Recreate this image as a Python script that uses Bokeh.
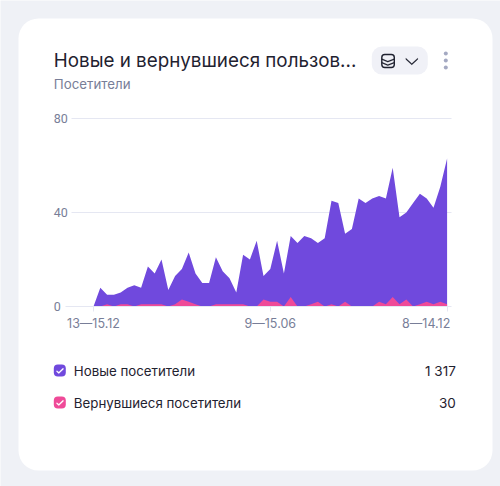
from bokeh.plotting import figure
from bokeh.embed import file_html
from bokeh.resources import INLINE
from bokeh.models import Label, BoxAnnotation, PolyAnnotation, FixedTicker, Range1d, LinearAxis, Grid

new_visitors = [0,8,5,5,6,8,9,8,17,14,20,7,13,16,23,14,10,10,21,15,12,6,22,20,28,13,16,28,14,30,27,30,29,27,29,45,44,31,33,46,44,46,47,46,59,38,40,44,48,46,42,51,63]
returning = [0,0,1,0,1,1,0,1,1,1,1,0,1,3,2,1,0,0,1,1,1,1,1,0,0,3,2,2,0,4,0,0,1,2,0,1,0,2,0,0,0,0,2,1,4,1,3,0,1,2,1,2,1]
weeks = list(range(len(new_visitors)))
x_labels = {0: "13—15.12", 26: "9—15.06", 52: ""}
last_label = "8—14.12"
y_ticks = [0, 40, 80]
title = "Новые и вернувшиеся пользов..."
subtitle = "Посетители"
legend_names = ["Новые посетители", "Вернувшиеся посетители"]
legend_values = ["1 317", "30"]

PURPLE, PINK = "#7049DD", "#EF4A98"
BG, GRID, MUTED, DARK = "#EFF1F6", "#E5E7F2", "#787E98", "#1F2230"
FONT = "Inter"
W, H = 500, 486
dx = 6.8; dy = 2.35; x0_px = 93.0; y0_px = 306

def dataX(px): return (px - x0_px) / dx
def X(px): return px - 0.7
def Y(py): return H - py

p = figure(width=W, height=H, output_backend="svg", toolbar_location=None,
           x_axis_type=None, y_axis_type=None,
           x_range=Range1d(dataX(0), dataX(W)),
           y_range=Range1d((y0_px - H) / dy, y0_px / dy),
           min_border_left=0, min_border_right=0, min_border_top=0, min_border_bottom=0)
p.background_fill_color = BG
p.border_fill_color = BG
p.outline_line_color = None

def box(l, r, t, b, fill, line=None, radius=0, lw=1, level="annotation"):
    p.add_layout(BoxAnnotation(left=X(l), right=X(r), top=Y(t), bottom=Y(b),
                               left_units="screen", right_units="screen", top_units="screen", bottom_units="screen",
                               fill_color=fill, fill_alpha=1 if fill else 0, line_color=line, line_width=lw, line_alpha=1,
                               border_radius=radius, level=level))

box(18.7, 492.7, 18, 470, "white", radius=20, level="underlay")

p.varea(weeks, 0, new_visitors, fill_color=PURPLE)
p.varea(weeks, 0, returning, fill_color=PINK)

ax = LinearAxis(fixed_location=0, bounds=(dataX(65), dataX(451)))
ax.ticker = FixedTicker(ticks=list(x_labels))
ax.major_label_overrides = x_labels
ax.axis_line_color = GRID
ax.major_tick_line_color = GRID
ax.major_tick_out = 5
ax.major_tick_in = 0
ax.minor_tick_line_color = None
ax.major_label_standoff = 4
ax.major_label_text_font = FONT
ax.major_label_text_font_size = "12.5px"
ax.major_label_text_color = MUTED
p.add_layout(ax, "below")

g = Grid(dimension=1, ticker=FixedTicker(ticks=y_ticks[1:]), cross_bounds=(dataX(71), dataX(451)),
         grid_line_color=GRID, level="underlay")
p.add_layout(g)

def text(s, x, y, size, color, align="left", font=FONT):
    p.add_layout(Label(x=X(x), y=Y(y), x_units="screen", y_units="screen", text=s, text_font=font,
                       text_font_size=size, text_color=color, text_align=align, text_baseline="middle"))

def poly(xs, ys, color):
    p.add_layout(PolyAnnotation(xs=[X(a) for a in xs], ys=[Y(b) for b in ys], xs_units="screen", ys_units="screen",
                                fill_color=color, fill_alpha=1, line_color=color, line_width=0.5))

def chev(xa, xb, xc, ya, yb, t, color):
    poly([xa, xb, xc, xc, xb, xa], [ya, yb, ya, ya + t, yb + t, ya + t], color)

for t in y_ticks:
    p.add_layout(Label(x=X(54), y=t, x_units="screen", y_units="data", text=str(t), text_font="Roboto",
                       text_font_size="12.5px", text_color=MUTED, text_align="left", text_baseline="middle"))

text(title, 54, 59.5, "18.8px", DARK)
text(subtitle, 54, 83.5, "13.3px", MUTED)
text(last_label, 450.5, 322.5, "12.5px", MUTED, "right")

# control pill and menu
box(372, 428, 46, 74, "#F0F1F7", radius=10)
box(382, 394.5, 54, 67, None, line=DARK, radius=3, lw=1.4)
chev(382, 388, 394.5, 58, 60.5, 1.2, DARK)
chev(382, 388, 394.5, 61.5, 64, 1.2, DARK)
chev(406, 412, 418, 57.5, 63, 1.4, DARK)
for cy in (53, 60, 67):
    box(444, 448, cy - 2, cy + 2, "#A4A9C2", radius=2)

# legend rows
for name, val, col, cy in zip(legend_names, legend_values, (PURPLE, PINK), (370, 402)):
    box(54, 66, cy - 6, cy + 6, col, radius=4)
    poly([57, 59, 63.2, 64, 59, 56.5], [cy, cy + 1.6, cy - 2.6, cy - 1.6, cy + 3.2, cy + 1], "white")
    text(name, 74, cy, "13.3px", DARK)
    text(val, 456, cy, "13.5px", DARK, "right")

open("out.html", "w").write(file_html(p, INLINE))
